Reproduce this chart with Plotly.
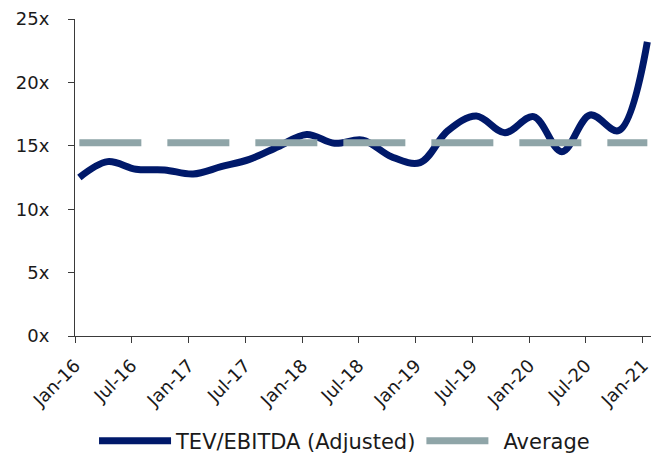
import plotly.graph_objects as go

# Quarterly observation dates (mid-month)
dates = [
    "2016-01-15", "2016-04-15", "2016-07-15", "2016-10-15",
    "2017-01-15", "2017-04-15", "2017-07-15", "2017-10-15",
    "2018-01-15", "2018-04-15", "2018-07-15", "2018-10-15",
    "2019-01-15", "2019-04-15", "2019-07-15", "2019-10-15",
    "2020-01-15", "2020-04-15", "2020-07-15", "2020-10-15",
    "2021-01-15",
]
tev_ebitda = [
    12.5, 13.75, 13.15, 13.1,
    12.78, 13.35, 13.93, 14.93,
    15.9, 15.2, 15.45, 14.14,
    13.67, 16.2, 17.35, 16.03,
    17.3, 14.53, 17.43, 16.2,
    23.2,
]
average_value = 15.24
average = [average_value] * len(dates)

tick_dates = [
    "2016-01-01", "2016-07-01", "2017-01-01", "2017-07-01", "2018-01-01",
    "2018-07-01", "2019-01-01", "2019-07-01", "2020-01-01", "2020-07-01",
    "2021-01-01",
]
tick_labels = [
    "Jan-16", "Jul-16", "Jan-17", "Jul-17", "Jan-18", "Jul-18",
    "Jan-19", "Jul-19", "Jan-20", "Jul-20", "Jan-21",
]
y_ticks = [0, 5, 10, 15, 20, 25]
y_labels = ["0x", "5x", "10x", "15x", "20x", "25x"]

NAVY = "#00196A"
GRAY = "#8FA5A8"
AXIS = "#3a3a3a"
FONT = "DejaVu Sans"

fig = go.Figure()
fig.add_trace(go.Scatter(
    x=dates, y=tev_ebitda, name="TEV/EBITDA (Adjusted)", mode="lines",
    line=dict(color=NAVY, width=7, shape="spline", smoothing=1.0),
))
fig.add_trace(go.Scatter(
    x=dates, y=average, name="Average", mode="lines",
    line=dict(color=GRAY, width=7, dash="62px,26px"),
))

# page body has an 8px default margin, so the figure is sized 8px smaller
fig.update_layout(
    width=651, height=452,
    margin=dict(l=67, r=7, t=11, b=124),
    paper_bgcolor="white", plot_bgcolor="white",
    font=dict(family=FONT, size=18, color="#1a1a1a"),
    showlegend=True,
    legend=dict(
        orientation="h", xref="paper", x=0.033, xanchor="left",
        yref="container", y=0.042, yanchor="middle",
        font=dict(size=21), itemwidth=72, tracegroupgap=0,
    ),
)
fig.update_xaxes(
    type="date", range=["2016-01-01", "2021-01-30"], automargin=False,
    tickvals=tick_dates, ticktext=tick_labels, tickangle=-45,
    showline=True, linecolor=AXIS, linewidth=1,
    ticks="outside", ticklen=6, tickcolor=AXIS, tickwidth=1,
    ticklabelstandoff=5,
    showgrid=False, zeroline=False,
)
fig.update_yaxes(
    range=[0, 25], tickvals=y_ticks, ticktext=y_labels, automargin=False,
    showline=True, linecolor=AXIS, linewidth=1,
    ticks="outside", ticklen=6, tickcolor=AXIS, tickwidth=1,
    ticklabelstandoff=15,
    showgrid=False, zeroline=False,
)

fig.write_html("out.html")
